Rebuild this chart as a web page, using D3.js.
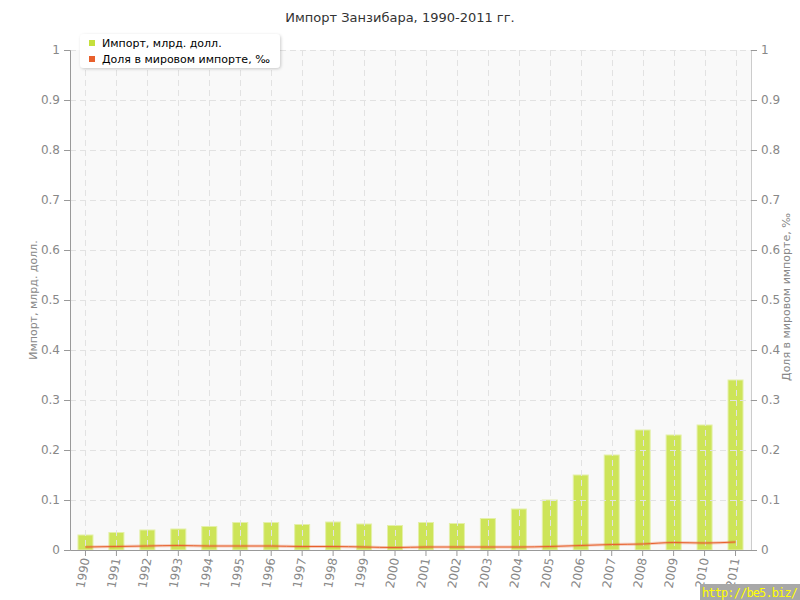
<!DOCTYPE html>
<html><head><meta charset="utf-8">
<script src="https://cdn.jsdelivr.net/npm/d3@7"></script>
<style>body{margin:0;background:#fff;} svg{display:block;font-family:"DejaVu Sans",Verdana,sans-serif;}</style>
</head><body>
<svg id="c" width="800" height="600"></svg>
<script>
const years = ["1990","1991","1992","1993","1994","1995","1996","1997","1998","1999","2000","2001","2002","2003","2004","2005","2006","2007","2008","2009","2010","2011"];
const importValues = [0.030,0.035,0.040,0.042,0.047,0.055,0.055,0.051,0.056,0.052,0.049,0.055,0.053,0.063,0.082,0.100,0.150,0.190,0.240,0.230,0.250,0.340];
const shareValues = [0.006,0.007,0.008,0.009,0.008,0.008,0.008,0.007,0.007,0.006,0.005,0.006,0.006,0.006,0.006,0.007,0.009,0.011,0.012,0.015,0.014,0.016];
const yTicks = [0,0.1,0.2,0.3,0.4,0.5,0.6,0.7,0.8,0.9,1];
const title = "Импорт Занзибара, 1990-2011 гг.";
const leftTitle = "Импорт, млрд. долл.";
const rightTitle = "Доля в мировом импорте, ‰";
const legendLabels = ["Импорт, млрд. долл.", "Доля в мировом импорте, ‰"];
const colors = {bar:"#c5e03c", line:"#e8602c"};

const svg = d3.select("#c");
const L=70, R=751, T=50, B=550;
const x = d3.scaleBand().domain(years).range([L,R]).padding(0);
const y = d3.scaleLinear().domain([0,1]).range([B,T]);
const y2 = d3.scaleLinear().domain([0,1]).range([B,T]);

svg.append("text").attr("x",400).attr("y",22).attr("text-anchor","middle")
  .attr("font-size",13).attr("fill","#333").text(title);

svg.append("rect").attr("x",L).attr("y",T).attr("width",R-L).attr("height",B-T).attr("fill","#f9f9f9");

// bars
const bw = 15;
svg.append("g").selectAll("rect").data(years).join("rect")
  .attr("x",d=>x(d)+x.bandwidth()/2-bw/2)
  .attr("y",(d,i)=>y(importValues[i]))
  .attr("width",bw)
  .attr("height",(d,i)=>B-y(importValues[i]))
  .attr("fill",colors.bar).attr("fill-opacity",0.85)
  .attr("stroke","#e4f0a8").attr("stroke-width",1);

// grid
const grid = svg.append("g");
grid.selectAll("line.h").data(yTicks.slice(1)).join("line")
  .attr("x1",L).attr("x2",R).attr("y1",d=>y(d)+0.5).attr("y2",d=>y(d)+0.5)
  .attr("stroke","#e2e2e2").attr("stroke-dasharray","6,4");
grid.selectAll("line.v").data(years).join("line")
  .attr("x1",d=>Math.round(x(d)+x.bandwidth()/2)+0.5).attr("x2",d=>Math.round(x(d)+x.bandwidth()/2)+0.5)
  .attr("y1",T).attr("y2",B)
  .attr("stroke","#e2e2e2").attr("stroke-dasharray","6,4");

// line
const lineGen = d3.line().x((d,i)=>x(years[i])+x.bandwidth()/2).y(d=>y2(d)).curve(d3.curveMonotoneX);
svg.append("path").datum(shareValues).attr("d",lineGen).attr("fill","none")
  .attr("stroke",colors.line).attr("stroke-opacity",0.3).attr("stroke-width",3);
svg.append("path").datum(shareValues).attr("d",lineGen).attr("fill","none")
  .attr("stroke",colors.line).attr("stroke-width",1);

// axes
const fmt = d=>d===0?"0":(d===1?"1":d3.format(".1f")(d));
const ax = svg.append("g").attr("transform",`translate(${L},0)`)
  .call(d3.axisLeft(y).tickValues(yTicks).tickFormat(fmt).tickSize(6).tickPadding(4));
const ax2 = svg.append("g").attr("transform",`translate(${R},0)`)
  .call(d3.axisRight(y2).tickValues(yTicks).tickFormat(fmt).tickSize(6).tickPadding(4));
const axb = svg.append("g").attr("transform",`translate(0,${B})`)
  .call(d3.axisBottom(x).tickSize(6).tickSizeOuter(0));
[ax,ax2,axb].forEach(g=>{
  g.select(".domain").attr("stroke","#999");
  g.selectAll(".tick line").attr("stroke","#999");
  g.selectAll("text").attr("fill","#888").attr("font-size",12).attr("font-family","DejaVu Sans, sans-serif");
});
ax2.select(".domain").attr("stroke","#ccc");
axb.selectAll(".tick text").attr("transform","translate(0,8) rotate(-80)").attr("text-anchor","end")
  .attr("x",0).attr("y",0).attr("dx",0).attr("dy","0.35em");

// axis titles
svg.append("text").attr("transform","translate(37,300) rotate(-90)").attr("text-anchor","middle")
  .attr("font-size",11).attr("fill","#888").text(leftTitle);
svg.append("text").attr("transform","translate(790,297) rotate(-90)").attr("text-anchor","middle")
  .attr("font-size",11).attr("fill","#888").text(rightTitle);

// legend
const lg = svg.append("g");
const defs = svg.append("defs");
const f = defs.append("filter").attr("id","sh").attr("x","-10%").attr("y","-20%").attr("width","130%").attr("height","160%");
f.append("feDropShadow").attr("dx",1).attr("dy",1).attr("stdDeviation",1.5).attr("flood-color","#000").attr("flood-opacity",0.2);
lg.append("rect").attr("x",80).attr("y",34).attr("width",200).attr("height",34).attr("rx",4)
  .attr("fill","#fff").attr("filter","url(#sh)");
[colors.bar,colors.line].forEach((c,i)=>{
  lg.append("rect").attr("x",89).attr("y",40+i*16).attr("width",6).attr("height",6).attr("fill",c);
  lg.append("text").attr("x",102).attr("y",47+i*16).attr("font-size",11).attr("fill","#000").text(legendLabels[i]);
});

// watermark
svg.append("rect").attr("x",700).attr("y",584).attr("width",100).attr("height",16).attr("fill","#a8a8a8");
svg.append("text").attr("x",702).attr("y",597).attr("font-size",12).attr("font-family","DejaVu Sans Mono, monospace")
  .attr("fill","#ffff00").attr("textLength",96).text("http://be5.biz/");
</script>
</body></html>
